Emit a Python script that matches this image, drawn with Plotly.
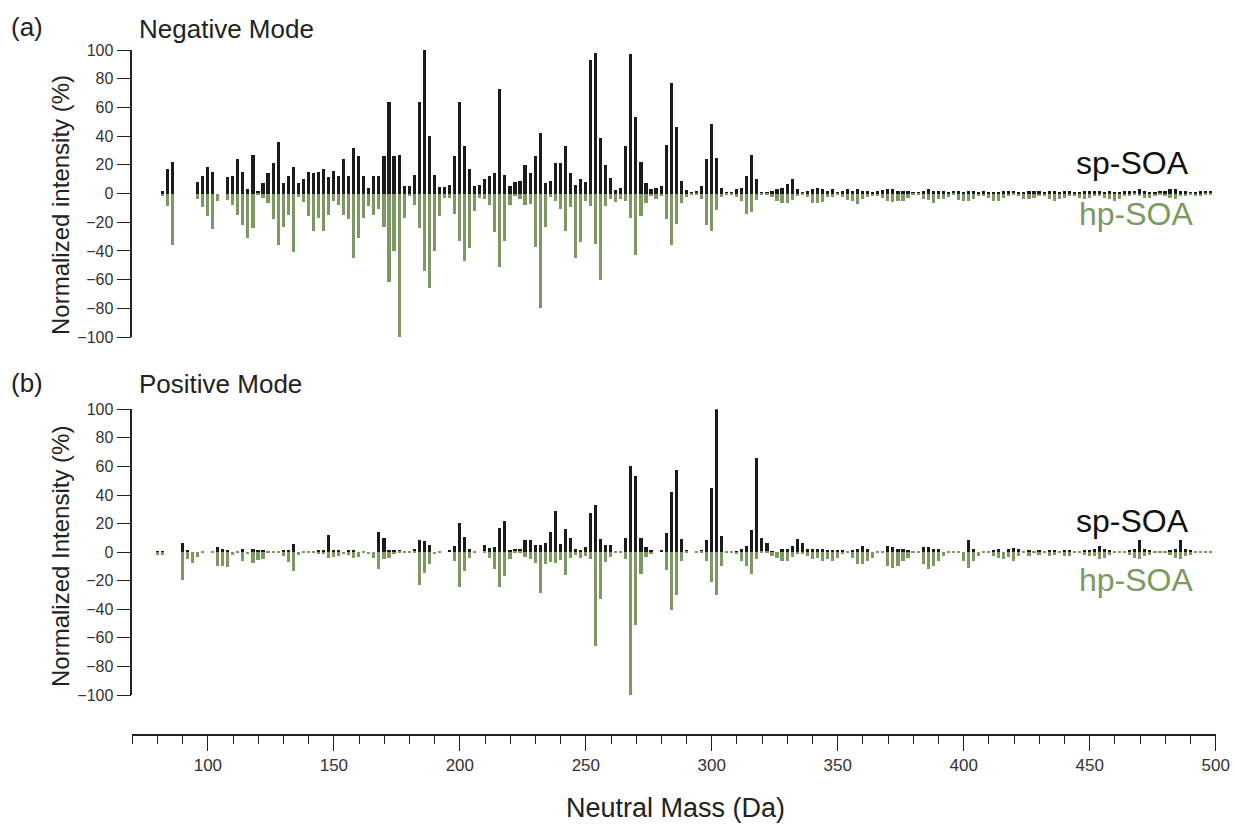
import plotly.graph_objects as go

masses = [80, 82, 84, 86, 88, 90, 92, 94, 96, 98,
          100, 102, 104, 106, 108, 110, 112, 114, 116, 118,
          120, 122, 124, 126, 128, 130, 132, 134, 136, 138,
          140, 142, 144, 146, 148, 150, 152, 154, 156, 158,
          160, 162, 164, 166, 168, 170, 172, 174, 176, 178,
          180, 182, 184, 186, 188, 190, 192, 194, 196, 198,
          200, 202, 204, 206, 208, 210, 212, 214, 216, 218,
          220, 222, 224, 226, 228, 230, 232, 234, 236, 238,
          240, 242, 244, 246, 248, 250, 252, 254, 256, 258,
          260, 262, 264, 266, 268, 270, 272, 274, 276, 278,
          280, 282, 284, 286, 288, 290, 292, 294, 296, 298,
          300, 302, 304, 306, 308, 310, 312, 314, 316, 318,
          320, 322, 324, 326, 328, 330, 332, 334, 336, 338,
          340, 342, 344, 346, 348, 350, 352, 354, 356, 358,
          360, 362, 364, 366, 368, 370, 372, 374, 376, 378,
          380, 382, 384, 386, 388, 390, 392, 394, 396, 398,
          400, 402, 404, 406, 408, 410, 412, 414, 416, 418,
          420, 422, 424, 426, 428, 430, 432, 434, 436, 438,
          440, 442, 444, 446, 448, 450, 452, 454, 456, 458,
          460, 462, 464, 466, 468, 470, 472, 474, 476, 478,
          480, 482, 484, 486, 488, 490, 492, 494, 496, 498]

# (a) Negative mode
neg_sp = [0, 2, 17, 22, 0, 0, 0, 0, 8, 12.5,
          18.6, 15, 0, 0, 11.6, 12, 24, 15, 3, 27,
          2, 7, 14.4, 21, 36, 7, 12, 18.6, 7, 10,
          15, 14, 15, 17, 11.6, 15.6, 12, 24, 12, 32,
          26, 12, 4, 12, 12, 26, 64, 26, 27, 5,
          5, 13, 64, 100, 40, 13, 4.4, 4.4, 6, 26,
          64, 33, 17, 5, 6, 10, 12, 14.4, 73, 13,
          5, 8, 9, 20, 14.4, 26, 42, 7, 8.6, 21,
          21, 33, 14.4, 6, 10, 8, 93, 98, 39, 20,
          11, 2.3, 3.5, 33, 97, 53, 22, 7, 3, 3.5,
          5, 34, 77, 46.5, 8.6, 2.3, 1, 1.4, 5, 24,
          48.6, 25, 4, 1, 0.5, 3.3, 4, 12, 26.5, 10,
          0.5, 0.5, 1.6, 3.3, 4, 6.3, 10, 3.3, 1, 2,
          2.8, 4, 2.8, 1.6, 2.8, 1, 2, 2.8, 2, 2.8,
          1.4, 1.4, 1, 1.4, 2.3, 2.8, 2.8, 2, 2, 1.4,
          0.5, 1, 2, 2.8, 2, 1.4, 1.4, 0.5, 1.4, 2,
          1, 2, 2, 1, 2, 1, 1, 1, 2, 2,
          2, 1, 1, 2, 2, 2, 1, 2, 2, 1,
          2, 2, 1, 1, 2, 2, 2, 2, 1, 2,
          1, 1, 2, 2, 2, 3, 2, 1, 1, 2,
          2, 3, 3, 2, 2, 1, 1, 2, 2, 2]
neg_hp = [0, -1.5, -9, -36, 0, 0, 0, 0, -4, -9.5,
          -16, -25, -5, 0, -4.6, -7.7, -15, -22, -31, -24,
          -1, -3, -6.5, -18, -36, -23, -15, -41, -2.3, -6,
          -16, -26, -17, -26, -15, -5, -7.7, -15, -18, -45,
          -31, -17, -9, -15, -10.5, -23, -62, -40, -100, -17,
          -2, -8, -24, -54, -66, -40, -16, -3, -3, -14,
          -33, -47, -38, -12, -3, -4, -8, -27, -51, -33,
          -8, -2, -4, -8, -7, -37, -80, -23, -2.6, -5,
          -11, -26, -9.5, -45, -34, -5, -9, -35, -60, -9,
          -4, -6, -4, -5, -17, -43, -16, -6.5, -2, -4,
          -2, -18, -36, -21, -6.5, -2.3, -0.7, -0.7, -3.7, -21.6,
          -26, -11.6, -2.3, -0.7, -0.7, -2.3, -5.3, -14, -13, -4.7,
          -0.7, -0.5, -2.3, -5.3, -6.5, -6.5, -4.7, -1.4, -0.7, -2.3,
          -6.5, -6.5, -5.8, -2.3, -2.3, -0.7, -2.3, -4.7, -5.3, -7.2,
          -3.5, -2.3, -1.4, -1.4, -3, -5.3, -5.8, -5.3, -5.3, -3,
          -0.7, -0.7, -3.5, -4.7, -6.5, -4, -4, -2.3, -0.7, -4.7,
          -5, -5, -4, -2, -2, -3, -5, -5, -3, -2,
          -1, -2, -4, -4, -3, -2, -2, -4, -5, -4,
          -3, -2, -2, -3, -4, -3, -2, -2, -3, -4,
          -5, -4, -2, -2, -1, -2, -3, -3, -2, -1,
          -2, -3, -4, -2, -2, -1, -2, -2, -1, -1]

# (b) Positive mode
pos_sp = [0.5, 0.5, 0, 0, 0, 6.5, 0.7, 0, 0, 0,
          0, 0, 3.7, 2.3, 1.6, 0, 0, 2, 0, 2,
          1, 0.7, 0, 0, 0, 0.7, 1, 5.4, 0, 0,
          0, 0, 1.4, 1, 12, 0.7, 1, 0, 1, 1.6,
          0, 0, 0, 0, 14, 9.6, 1.4, 1.4, 0.7, 0,
          0, 2, 8.4, 7.7, 4.5, 0, 0, 0, 0.7, 4.2,
          20, 10.7, 2.3, 0, 0, 5, 3, 3.7, 16.6, 21.5,
          1.6, 2.3, 2, 8, 8, 4.7, 4.7, 6, 14, 28.7,
          5.4, 16, 10, 2, 1, 3.5, 27, 32.7, 9.3, 5,
          5, 0, 0, 10, 60, 53, 10, 3.7, 1.4, 0,
          0.7, 13, 42, 57, 9.3, 1, 0, 0, 0.7, 8.4,
          44.6, 100, 11, 0.5, 0.5, 0.5, 2, 4.2, 15, 66,
          10, 6, 0.5, 0, 2, 2.3, 4.2, 9, 6.5, 2.3,
          2, 2, 2, 1.2, 1.4, 1.4, 0.7, 0.3, 0.7, 2,
          4.2, 2.3, 0, 0.3, 0.3, 4.2, 3.5, 2.3, 2, 1,
          0.3, 0.3, 3.5, 3.5, 2.3, 2, 0, 0.3, 0.3, 0.3,
          0, 8.4, 2.3, 0, 0.3, 0.3, 1, 2, 0, 2.3,
          3, 2, 0.5, 1, 0.5, 1, 0.5, 1.5, 1, 0.5,
          1, 1, 0.5, 0.5, 1, 1, 2, 4, 2, 1,
          0.5, 0.5, 0.5, 1, 2, 8, 2, 1, 0.5, 0.5,
          0.5, 1, 2, 8, 2, 1, 0.5, 0.3, 0.3, 0.3]
pos_hp = [-2, -2, 0, 0, 0, -20, -4.7, -8, -3.3, -0.7,
          0, -0.7, -10, -10, -10.5, -2, -0.5, -6.3, -1.6, -8,
          -5.6, -5, -1, -0.5, -1, -2.8, -7, -13.3, -2, -0.7,
          -0.7, -0.7, -1.6, -1.6, -4.4, -3.3, -2.8, -1.6, -2.3, -4.4,
          -3.5, -1, -1.6, -4, -11.7, -5, -4.4, -1.6, -1, -1,
          -1, -1, -23, -14.5, -8.6, -1.6, -1, 0, 0, -6.3,
          -24.5, -13.3, -4, -0.5, 0, -0.5, -4, -11.7, -24.5, -17,
          -4.7, -1, -1, -3.3, -5, -8, -29, -8.6, -7, -7.5,
          -5.6, -16.3, -4.4, -2, -4.4, -2.8, -4.7, -66, -32.7, -7,
          -3.3, -0.5, -0.5, -4.7, -100, -51, -15.6, -3.3, -1.6, 0,
          0, -12.6, -41, -30, -6.3, -1, 0, -0.5, -1, -6.3,
          -21, -30, -10, -0.5, -0.5, -1.6, -6.3, -10, -15.6, -5,
          -1, -1, -3, -4, -6.3, -6.3, -3.3, -1.6, -1.6, -2.8,
          -5, -4, -6.3, -5, -6.3, -4, -1.6, -0.5, -4, -8.6,
          -8.6, -6.3, -4, -0.5, -0.5, -10, -11, -10, -6.3, -4,
          -0.5, -0.5, -8.6, -12, -10, -6.3, -2.8, -0.5, -0.5, -0.5,
          -6.3, -11, -6.3, -2.8, -0.5, -0.5, -2.8, -4, -5, -3.3,
          -6.3, -2.8, -1, -3, -1, -2, -1, -3, -2, -1,
          -2.8, -3, -1, -1, -2, -3, -3, -5, -4, -2,
          -1, -1, -1, -2, -4, -5, -3, -2, -1, -1,
          -0.5, -2, -4, -5, -3, -2, -0.5, -0.5, -0.5, -0.5]

BLACK = "#1b1b1b"
GREEN = "#7d9862"
FONT = "Liberation Sans, Arial, sans-serif"
W, H = 1234, 825

def py(pix):
    return 1 - pix / H

def px(pix):
    return pix / W

fig = go.Figure()
BW = 1.25
fig.add_trace(go.Bar(x=masses, y=neg_sp, width=BW, marker_color=BLACK, marker_line_width=0,
                     xaxis="x", yaxis="y", showlegend=False))
fig.add_trace(go.Bar(x=masses, y=neg_hp, width=BW, marker_color=GREEN, marker_line_width=0,
                     xaxis="x", yaxis="y", showlegend=False))
fig.add_trace(go.Bar(x=masses, y=pos_sp, width=BW, marker_color=BLACK, marker_line_width=0,
                     xaxis="x2", yaxis="y2", showlegend=False))
fig.add_trace(go.Bar(x=masses, y=pos_hp, width=BW, marker_color=GREEN, marker_line_width=0,
                     xaxis="x2", yaxis="y2", showlegend=False))

x_dom = [px(132.3), px(1215.7)]
yaxis_common = dict(range=[-100, 100], tickvals=[-100, -80, -60, -40, -20, 0, 20, 40, 60, 80, 100],
                    ticks="outside", ticklen=14, tickwidth=1.3, tickcolor="#222",
                    showline=True, linecolor="#222", linewidth=1.5, showgrid=False,
                    zeroline=False, automargin=False,
                    tickfont=dict(family=FONT, size=16, color="#333"))

fig.update_layout(
    template="none",
    width=W, height=H,
    margin=dict(l=0, r=0, t=0, b=0, pad=0, autoexpand=False),
    paper_bgcolor="white", plot_bgcolor="white",
    barmode="overlay", bargap=0,
    xaxis=dict(domain=x_dom, range=[70, 500], visible=False, anchor="y", automargin=False),
    yaxis=dict(domain=[py(337), py(50)], anchor="x", **yaxis_common),
    xaxis2=dict(domain=x_dom, range=[70, 500], anchor="free", position=py(735), automargin=False,
                showline=True, linecolor="#222", linewidth=2, showgrid=False, zeroline=False,
                ticks="outside", ticklen=15, tickwidth=1.3, tickcolor="#222",
                tickvals=[100, 150, 200, 250, 300, 350, 400, 450, 500],
                minor=dict(dtick=10, tick0=0, ticks="outside", ticklen=8, tickwidth=1.3,
                           tickcolor="#222", showgrid=False),
                tickfont=dict(family=FONT, size=17, color="#333")),
    yaxis2=dict(domain=[py(695), py(409.3)], anchor="x2", **yaxis_common),
)

annots = [
    dict(text="(a)", x=px(9), y=py(27), xanchor="left"),
    dict(text="Negative Mode", x=px(137), y=py(29), xanchor="left"),
    dict(text="(b)", x=px(9), y=py(383), xanchor="left"),
    dict(text="Positive Mode", x=px(137), y=py(384), xanchor="left"),
]
for a in annots:
    fig.add_annotation(xref="paper", yref="paper", yanchor="middle", showarrow=False,
                       font=dict(family=FONT, size=26, color="#222"), **a)

fig.add_annotation(text="Normalized intensity (%)", xref="paper", yref="paper", x=px(60), y=py(205),
                   xanchor="center", yanchor="middle",
                   textangle=-90, showarrow=False, font=dict(family=FONT, size=24, color="#222"))
fig.add_annotation(text="Normalized Intensity (%)", xref="paper", yref="paper", x=px(60), y=py(557),
                   xanchor="center", yanchor="middle",
                   textangle=-90, showarrow=False, font=dict(family=FONT, size=24, color="#222"))

for ys, yh in [(163, 214), (521, 580)]:
    fig.add_annotation(text="sp-SOA", xref="paper", yref="paper", x=px(1191), y=py(ys),
                       xanchor="right", yanchor="middle",
                       showarrow=False, font=dict(family=FONT, size=32, color="#111"))
    fig.add_annotation(text="hp-SOA", xref="paper", yref="paper", x=px(1195), y=py(yh),
                       xanchor="right", yanchor="middle",
                       showarrow=False, font=dict(family=FONT, size=32, color="#7a9a5f"))

fig.add_annotation(text="Neutral Mass (Da)", xref="paper", yref="paper", x=px(675), y=py(808),
                   xanchor="center", yanchor="middle",
                   showarrow=False, font=dict(family=FONT, size=27, color="#222"))

fig.write_html("out.html")
